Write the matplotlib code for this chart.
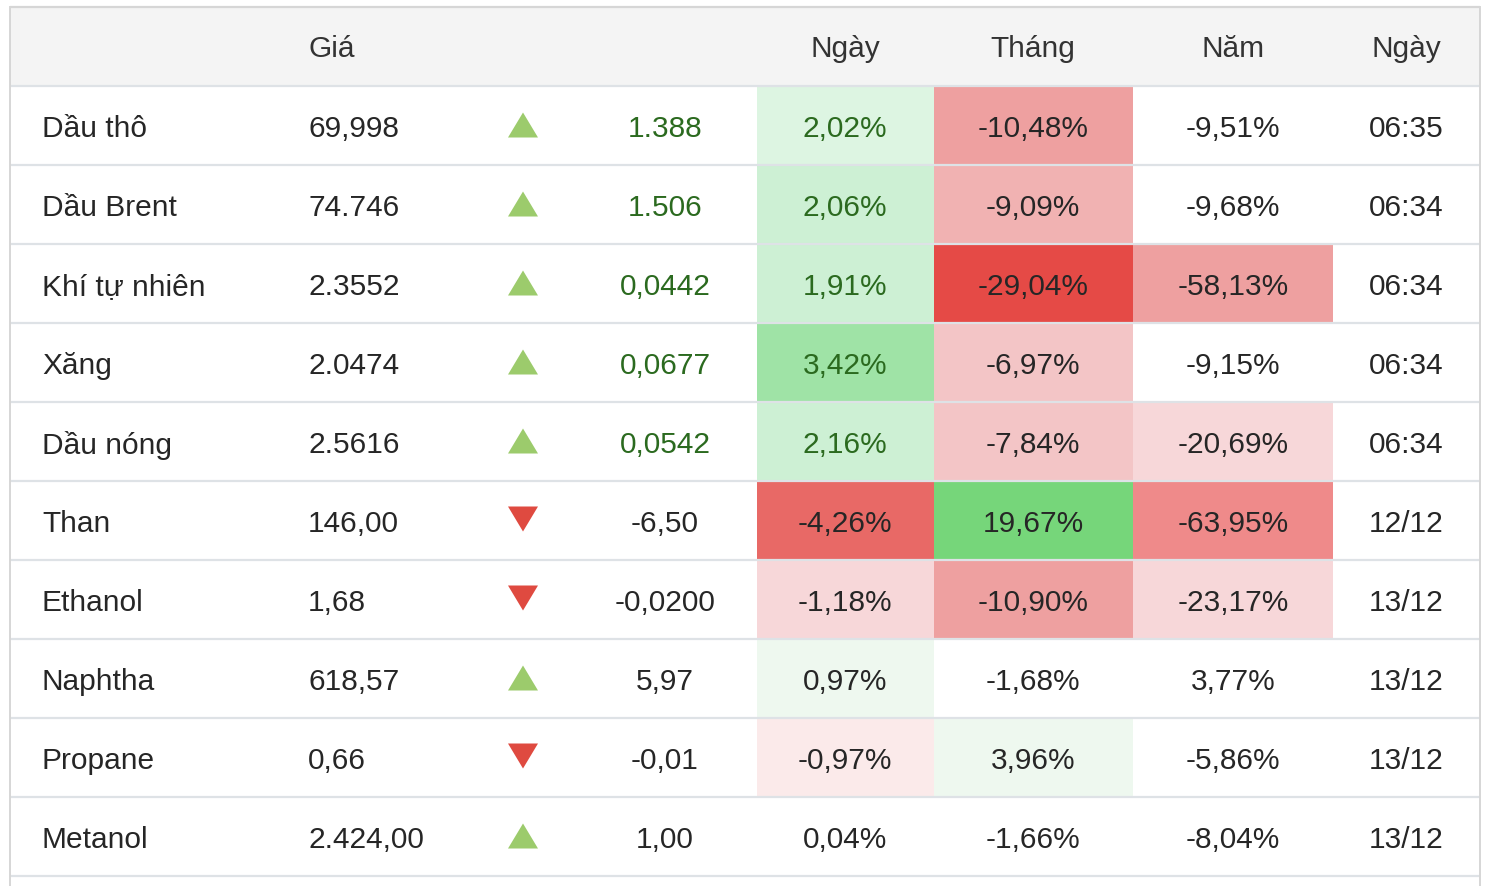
import matplotlib.pyplot as plt
from matplotlib.patches import Rectangle, Polygon

plt.rcParams['font.family'] = ['Liberation Sans', 'DejaVu Sans']

# ---- data ----
headers = ['', 'Giá', '', '', 'Ngày', 'Tháng', 'Năm', 'Ngày']
names = ['Dầu thô', 'Dầu Brent', 'Khí tự nhiên', 'Xăng', 'Dầu nóng',
         'Than', 'Ethanol', 'Naphtha', 'Propane', 'Metanol']
prices = ['69,998', '74.746', '2.3552', '2.0474', '2.5616',
          '146,00', '1,68', '618,57', '0,66', '2.424,00']
direction = ['up', 'up', 'up', 'up', 'up', 'down', 'down', 'up', 'down', 'up']
changes = ['1.388', '1.506', '0,0442', '0,0677', '0,0542',
           '-6,50', '-0,0200', '5,97', '-0,01', '1,00']
day_pct = ['2,02%', '2,06%', '1,91%', '3,42%', '2,16%',
           '-4,26%', '-1,18%', '0,97%', '-0,97%', '0,04%']
month_pct = ['-10,48%', '-9,09%', '-29,04%', '-6,97%', '-7,84%',
             '19,67%', '-10,90%', '-1,68%', '3,96%', '-1,66%']
year_pct = ['-9,51%', '-9,68%', '-58,13%', '-9,15%', '-20,69%',
            '-63,95%', '-23,17%', '3,77%', '-5,86%', '-8,04%']
dates = ['06:35', '06:34', '06:34', '06:34', '06:34',
         '12/12', '13/12', '13/12', '13/12', '13/12']
# heat level of each % cell as shown by the site (+ green, - red, 0 none)
day_heat = [2, 3, 3, 4, 3, -7, -2, 1, -1, 0]
month_heat = [-5, -4, -8, -3, -3, 5, -5, 0, 1, 0]
year_heat = [0, 0, -5, 0, -2, -6, -2, 0, 0, 0]

# ---- style ----
green_scale = {1: '#eef8ef', 2: '#ddf5e2', 3: '#cdf0d4', 4: '#9fe3a6', 5: '#76d67a'}
red_scale = {-1: '#fbeaea', -2: '#f7d7d9', -3: '#f3c5c6', -4: '#f1b2b2',
             -5: '#eea0a0', -6: '#ef8a8a', -7: '#e86966', -8: '#e54a46'}

def heat_color(level):
    if level > 0:
        return green_scale[level]
    if level < 0:
        return red_scale[level]
    return 'white'

W, H = 1492, 886
left, right = 10, 1480
top = 7
row_h = 79
grid_c = '#dee2e6'
text_c = '#262626'
up_text = '#2b6a1f'
fs = 21.5
dy = 2.5  # baseline nudge

# column layout: (x, ha)
col_x = [42, 308, 523, 665, 845, 1033, 1233, 1406]
col_ha = ['left', 'left', 'center', 'center', 'center', 'center', 'center', 'center']
heat_edges = [(757, 934), (934, 1133), (1133, 1333)]

fig = plt.figure(figsize=(W / 100, H / 100), dpi=100)
ax = fig.add_axes([0, 0, 1, 1])
ax.set_xlim(0, W)
ax.set_ylim(H, 0)
ax.axis('off')

# header
ax.add_patch(Rectangle((left, top), right - left, row_h, facecolor='#f4f4f4', edgecolor='none'))
hy = top + row_h / 2 + dy
for j, h in enumerate(headers):
    if h:
        ax.text(col_x[j], hy, h, ha=col_ha[j], va='center', fontsize=fs, color='#333333')

n = len(names)
for i in range(n):
    y0 = top + row_h * (i + 1)
    yc = y0 + row_h / 2 + 1
    ty = yc + dy
    # heat cells
    for (x0, x1), lv in zip(heat_edges, [day_heat[i], month_heat[i], year_heat[i]]):
        ax.add_patch(Rectangle((x0, y0), x1 - x0, row_h, facecolor=heat_color(lv), edgecolor='none'))
    live_up = ':' in dates[i] and direction[i] == 'up'
    vc = up_text if live_up else text_c
    ax.text(col_x[0], ty, names[i], ha='left', va='center', fontsize=fs, color=text_c)
    ax.text(col_x[1], ty, prices[i], ha='left', va='center', fontsize=fs, color=text_c)
    # arrow
    cx, hw, th = col_x[2], 15, 25
    if direction[i] == 'up':
        pts = [(cx - hw, yc + 11), (cx + hw, yc + 11), (cx, yc + 11 - th)]
        fc = '#9ccb6c'
    else:
        pts = [(cx - hw, yc - 15), (cx + hw, yc - 15), (cx, yc - 15 + th)]
        fc = '#df4a40'
    ax.add_patch(Polygon(pts, closed=True, facecolor=fc, edgecolor='none'))
    ax.text(col_x[3], ty, changes[i], ha='center', va='center', fontsize=fs, color=vc)
    ax.text(col_x[4], ty, day_pct[i], ha='center', va='center', fontsize=fs, color=vc)
    ax.text(col_x[5], ty, month_pct[i], ha='center', va='center', fontsize=fs, color=text_c)
    ax.text(col_x[6], ty, year_pct[i], ha='center', va='center', fontsize=fs, color=text_c)
    ax.text(col_x[7], ty, dates[i], ha='center', va='center', fontsize=fs, color=text_c)

# grid lines
for k in range(n + 2):
    y = top + row_h * k
    ax.plot([left, right], [y, y], color=grid_c if k else '#d6d6d6', lw=1.6, solid_capstyle='butt')
ax.plot([left, left], [top, H], color='#d6d6d6', lw=1.4)
ax.plot([right, right], [top, H], color='#d6d6d6', lw=1.4)

fig.savefig('out.png', dpi=100, facecolor='white')
